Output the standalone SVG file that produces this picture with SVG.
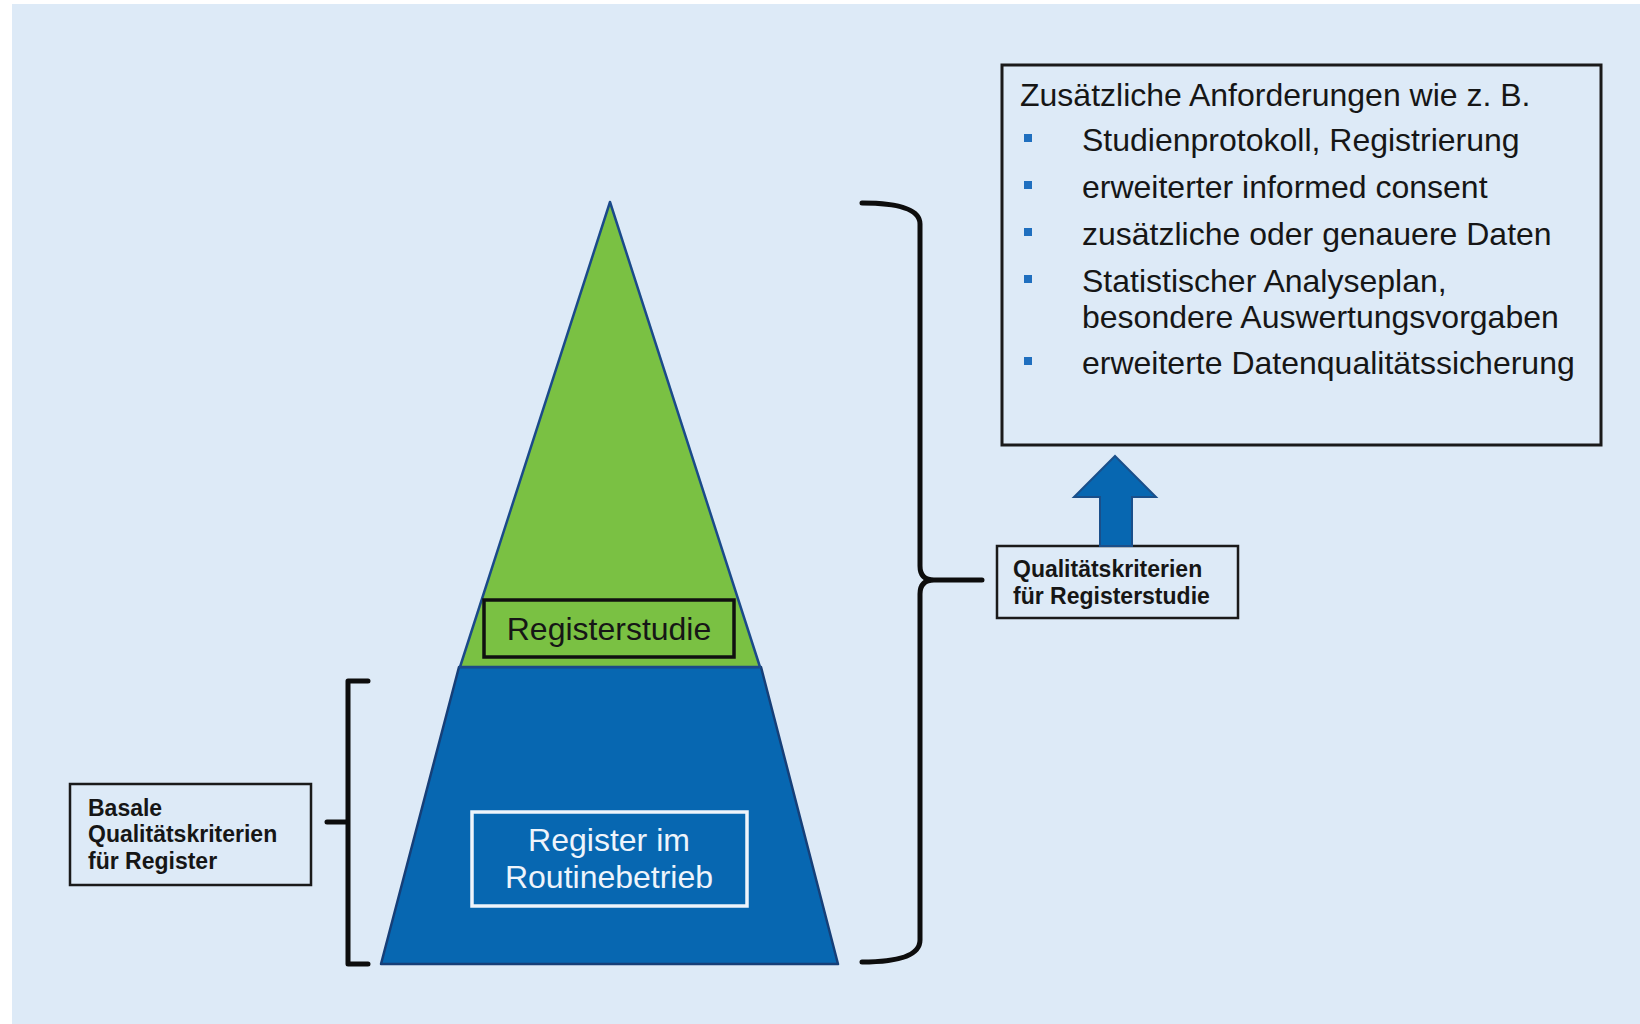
<svg xmlns="http://www.w3.org/2000/svg" width="1640" height="1024" viewBox="0 0 1640 1024">
  <style>
    .t { font-family: "Liberation Sans", Arial, sans-serif; fill: #161616; }
    .big { font-size: 32px; }
    .lbl { font-size: 23px; font-weight: bold; }
    .box { fill: none; stroke: #1a1a1a; stroke-width: 2.5; }
    .brace { fill: none; stroke: #0d0d0d; stroke-width: 5; stroke-linecap: round; stroke-linejoin: round; }
    .bullet { fill: #1f6fbf; }
  </style>
  <rect x="0" y="0" width="1640" height="1024" fill="#ffffff"/>
  <rect x="12" y="4" width="1628" height="1020" fill="#ddeaf7"/>

  <g id="pyramid">
    <polygon points="459,667 761,667 838,964 381,964" fill="#0767b1" stroke="#163f78" stroke-width="2.5" stroke-linejoin="round"/>
    <polygon points="610,202 460,667 760,667" fill="#7ac143" stroke="#1b4a8a" stroke-width="2.5" stroke-linejoin="round"/>
  </g>

  <g id="registerstudie">
    <rect x="484" y="600" width="250" height="57" fill="#7ac143" stroke="#101010" stroke-width="3.5"/>
    <text class="t big" x="609" y="640" text-anchor="middle">Registerstudie</text>
  </g>

  <g id="register-routine">
    <rect x="472" y="812" width="275" height="94" fill="#0767b1" stroke="#eef4fb" stroke-width="3.5"/>
    <text class="t big" x="609" y="851" text-anchor="middle" style="fill:#eef4fb">Register im</text>
    <text class="t big" x="609" y="888" text-anchor="middle" style="fill:#eef4fb">Routinebetrieb</text>
  </g>

  <g id="basale">
    <rect x="70" y="784" width="241" height="101" class="box"/>
    <text class="t lbl" x="88" y="816">Basale</text>
    <text class="t lbl" x="88" y="842">Qualitätskriterien</text>
    <text class="t lbl" x="88" y="869">für Register</text>
  </g>

  <g id="qualitaet-studie">
    <rect x="997" y="546" width="241" height="72" class="box"/>
    <text class="t lbl" x="1013" y="577">Qualitätskriterien</text>
    <text class="t lbl" x="1013" y="604">für Registerstudie</text>
  </g>

  <g id="anforderungen">
    <rect x="1002" y="65" width="599" height="380" fill="none" stroke="#1a1a1a" stroke-width="3"/>
    <text class="t big" x="1020" y="106">Zusätzliche Anforderungen wie z. B.</text>
    <rect class="bullet" x="1024" y="134" width="8" height="8"/>
    <text class="t big" x="1082" y="151">Studienprotokoll, Registrierung</text>
    <rect class="bullet" x="1024" y="181" width="8" height="8"/>
    <text class="t big" x="1082" y="198">erweiterter informed consent</text>
    <rect class="bullet" x="1024" y="228" width="8" height="8"/>
    <text class="t big" x="1082" y="245">zusätzliche oder genauere Daten</text>
    <rect class="bullet" x="1024" y="275" width="8" height="8"/>
    <text class="t big" x="1082" y="292">Statistischer Analyseplan,</text>
    <text class="t big" x="1082" y="328">besondere Auswertungsvorgaben</text>
    <rect class="bullet" x="1024" y="357" width="8" height="8"/>
    <text class="t big" x="1082" y="374">erweiterte Datenqualitätssicherung</text>
  </g>

  <g id="connectors">
    <path class="brace" d="M368,681 L348,681 L348,964 L368,964 M348,822 L327,822" stroke-linecap="butt" stroke-linejoin="miter"/>
    <path class="brace" d="M862,203 Q920,203 920,224 L920,566 Q920,580 934,580 L982,580 M934,580 Q920,580 920,594 L920,940 Q920,962 862,962"/>
    <path d="M1100,546 L1100,497 L1074,497 L1115,456 L1156,497 L1132,497 L1132,546 Z" fill="#0767b1" stroke="#1a4f8a" stroke-width="2"/>
  </g>
</svg>
